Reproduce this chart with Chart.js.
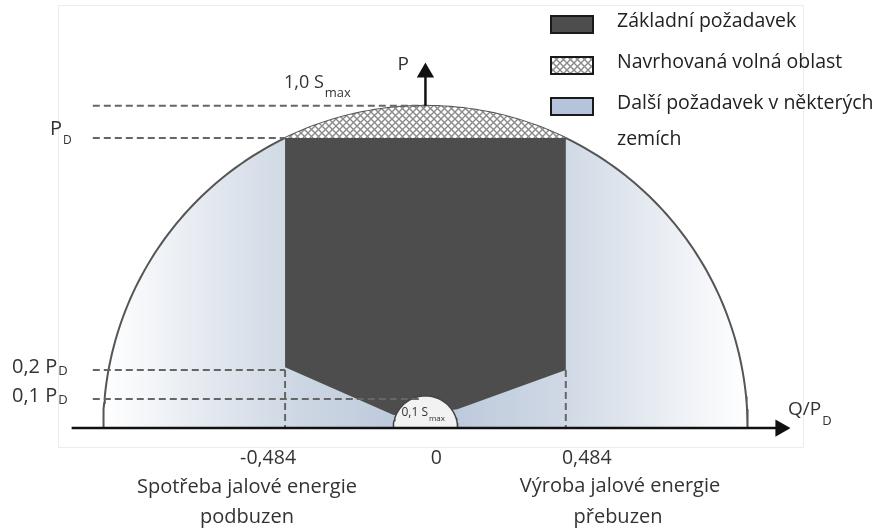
<!DOCTYPE html>
<html>
<head>
<meta charset="utf-8">
<script src="https://cdn.jsdelivr.net/npm/chart.js"></script>
<style>
  html, body { margin: 0; padding: 0; background: #fff; }
  #wrap { width: 879px; height: 531px; position: relative; }
</style>
</head>
<body>
<div id="wrap"><canvas id="chart"></canvas></div>
<script>
// all values in units of P_D (x = Q/P_D, y = P/P_D)
const S_MAX = 1.111;       // 1,0 S_max  (P_D = 0.9 S_max)
const P_D = 1.0;
const Q_LIMIT = 0.484;     // cos phi = 0.9
const S_SMALL = 0.111;     // 0,1 S_max
const LOW_LEVELS = [0.2, 0.1];
const xTickValues = [-0.484, 0, 0.484];
const xTickLabels = ['-0,484', '0', '0,484'];
const legendLabels = ['Základní požadavek', 'Navrhovaná volná oblast', 'Další požadavek v některých', 'zemích'];
const leftCaption = ['Spotřeba jalové energie', 'podbuzen'];
const rightCaption = ['Výroba jalové energie', 'přebuzen'];

// outline of the dark "basic requirement" area
const basicQ = [-0.484, 0.484, 0.484, 0.11, 0, -0.11, -0.484];
const basicP = [1.0, 1.0, 0.2, 0.065, 0.05, 0.045, 0.21];

// view window
const X_MIN = -1.467, X_MAX = 1.564, Y_MIN = -0.355, Y_MAX = 1.476;
const DASH_START = -1.147;

function arcPoints(r, a0, a1, steps) {
  const pts = [];
  for (let i = 0; i <= steps; i++) {
    const a = a0 + (a1 - a0) * i / steps;
    pts.push({ x: r * Math.cos(a), y: r * Math.sin(a) });
  }
  return pts;
}

function makeHatch() {
  const c = document.createElement('canvas');
  c.width = 7; c.height = 7;
  const g = c.getContext('2d');
  g.fillStyle = '#ffffff';
  g.fillRect(0, 0, 7, 7);
  g.strokeStyle = '#8a8a8a';
  g.lineWidth = 1.4;
  g.beginPath();
  g.moveTo(-1, -1); g.lineTo(8, 8);
  g.moveTo(8, -1); g.lineTo(-1, 8);
  g.stroke();
  return g.createPattern(c, 'repeat');
}
const hatch = makeHatch();

function blueGradient(ctx) {
  const chart = ctx.chart;
  if (!chart.chartArea || !chart.scales.x) return '#c9d3e2';
  const x0 = chart.scales.x.getPixelForValue(-S_MAX);
  const x1 = chart.scales.x.getPixelForValue(S_MAX);
  const g = chart.ctx.createLinearGradient(x0, 0, x1, 0);
  g.addColorStop(0, '#ffffff');
  g.addColorStop(0.29, '#cfd8e4');
  g.addColorStop(0.5, '#b8c6da');
  g.addColorStop(0.71, '#cfd8e4');
  g.addColorStop(1, '#ffffff');
  return g;
}

const capAngle = Math.acos(Q_LIMIT / S_MAX);
const dashed = { borderColor: '#666', borderWidth: 2, borderDash: [7, 4], pointRadius: 0, fill: false, order: 5 };

const datasets = [
  { label: 'circle', data: arcPoints(S_MAX, Math.PI, 0, 160), borderColor: '#555', borderWidth: 2,
    backgroundColor: blueGradient, fill: 'origin', pointRadius: 0, order: 10 },
  { label: 'cap', data: arcPoints(S_MAX, Math.PI - capAngle, capAngle, 60), borderWidth: 0,
    backgroundColor: hatch, fill: { value: P_D }, pointRadius: 0, order: 9 },
  { label: 'basic', data: basicQ.map((q, i) => ({ x: q, y: basicP[i] })), borderWidth: 0,
    backgroundColor: '#4d4d4d', fill: 'shape', pointRadius: 0, order: 8 },
  { label: 'small', data: arcPoints(S_SMALL, Math.PI, 0, 40), borderColor: '#444', borderWidth: 1.5,
    backgroundColor: '#f2f2f2', fill: 'origin', pointRadius: 0, order: 7 },
  Object.assign({ data: [{ x: DASH_START, y: S_MAX }, { x: 0, y: S_MAX }] }, dashed),
  Object.assign({ data: [{ x: DASH_START, y: P_D }, { x: -Q_LIMIT, y: P_D }] }, dashed),
  Object.assign({ data: [{ x: DASH_START, y: LOW_LEVELS[0] }, { x: -Q_LIMIT, y: LOW_LEVELS[0] }] }, dashed),
  Object.assign({ data: [{ x: DASH_START, y: LOW_LEVELS[1] }, { x: -0.02, y: LOW_LEVELS[1] }] }, dashed),
  Object.assign({ data: [{ x: -Q_LIMIT, y: LOW_LEVELS[0] }, { x: -Q_LIMIT, y: 0 }] }, dashed),
  Object.assign({ data: [{ x: Q_LIMIT, y: LOW_LEVELS[0] }, { x: Q_LIMIT, y: 0 }] }, dashed),
  { label: 'axisQ', data: [{ x: -1.22, y: 0 }, { x: 1.224, y: 0 }], borderColor: '#111', borderWidth: 2.5,
    pointStyle: 'triangle', pointRadius: [0, 7.5], pointRotation: [0, 90], pointBackgroundColor: '#111',
    pointBorderColor: '#111', fill: false, order: 1 },
  { label: 'axisP', data: [{ x: 0, y: S_MAX }, { x: 0, y: 1.226 }], borderColor: '#111', borderWidth: 2.5,
    pointStyle: 'triangle', pointRadius: [0, 7.5], pointRotation: [0, 0], pointBackgroundColor: '#111',
    pointBorderColor: '#111', fill: false, order: 1 }
];
datasets.forEach(d => { d.showLine = true; });

const FONT = '"Open Sans", sans-serif';

function drawSub(ctx, main, sub, x, y, size, subSize, drop) {
  ctx.textAlign = 'left';
  ctx.textBaseline = 'middle';
  ctx.font = size + 'px ' + FONT;
  const w1 = ctx.measureText(main).width;
  ctx.fillText(main, x, y);
  ctx.font = subSize + 'px ' + FONT;
  ctx.fillText(sub, x + w1 + 1, y + drop);
}

const labelsPlugin = {
  id: 'labels',
  beforeDraw(chart) {
    const ctx = chart.ctx;
    ctx.save();
    ctx.strokeStyle = '#ececec';
    ctx.lineWidth = 1;
    ctx.strokeRect(58.5, 5.5, 745, 442);
    ctx.restore();
  },
  afterDraw(chart) {
    const ctx = chart.ctx;
    const xs = chart.scales.x, ys = chart.scales.y;
    ctx.save();
    ctx.fillStyle = '#333';

    drawSub(ctx, '1,0 S', 'max', 284, ys.getPixelForValue(S_MAX) - 23, 18, 13, 10);
    drawSub(ctx, 'P', 'D', 50, ys.getPixelForValue(P_D) - 9, 20, 12, 12);
    LOW_LEVELS.forEach(v => {
      drawSub(ctx, String(v).replace('.', ',') + ' P', 'D', 12, ys.getPixelForValue(v) - 3, 20, 13, 4);
    });
    drawSub(ctx, 'P', '', xs.getPixelForValue(0) - 28, ys.getPixelForValue(1.252), 19, 12, 0);
    drawSub(ctx, 'Q/P', 'D', 788, ys.getPixelForValue(0) - 18, 19, 13, 11);
    drawSub(ctx, '0,1 S', 'max', xs.getPixelForValue(0) - 24, ys.getPixelForValue(0) - 15, 12, 8, 6);

    ctx.font = '19.5px ' + FONT;
    ctx.textAlign = 'center';
    ctx.textBaseline = 'middle';
    const tickShift = [-17, 11, 21];
    xTickValues.forEach((v, i) => {
      ctx.fillText(xTickLabels[i], xs.getPixelForValue(v) + tickShift[i], 458);
    });
    ctx.font = '20px ' + FONT;
    ctx.fillText(leftCaption[0], 247, 487);
    ctx.fillText(leftCaption[1], 247, 517);
    ctx.fillText(rightCaption[0], 620, 486);
    ctx.fillText(rightCaption[1], 618, 517);

    // legend
    const fills = ['#4d4d4d', hatch, '#b5c4da'];
    const rowY = [24, 65, 106];
    fills.forEach((f, i) => {
      ctx.fillStyle = f;
      ctx.fillRect(551, rowY[i] - 8, 42, 17);
      ctx.strokeStyle = '#1a1a1a';
      ctx.lineWidth = 2;
      ctx.strokeRect(551, rowY[i] - 8, 42, 17);
    });
    ctx.fillStyle = '#222';
    ctx.textAlign = 'left';
    ctx.font = '19.5px ' + FONT;
    const textY = [21, 62, 103, 139];
    legendLabels.forEach((t, i) => ctx.fillText(t, 617, textY[i]));
    ctx.restore();
  }
};

new Chart(document.getElementById('chart'), {
  type: 'scatter',
  data: { datasets: datasets },
  options: {
    responsive: true,
    maintainAspectRatio: false,
    animation: false,
    layout: { padding: 0, autoPadding: false },
    plugins: { legend: { display: false }, tooltip: { enabled: false } },
    scales: {
      x: { type: 'linear', display: false, min: X_MIN, max: X_MAX },
      y: { type: 'linear', display: false, min: Y_MIN, max: Y_MAX }
    }
  },
  plugins: [labelsPlugin]
});
</script>
</body>
</html>
